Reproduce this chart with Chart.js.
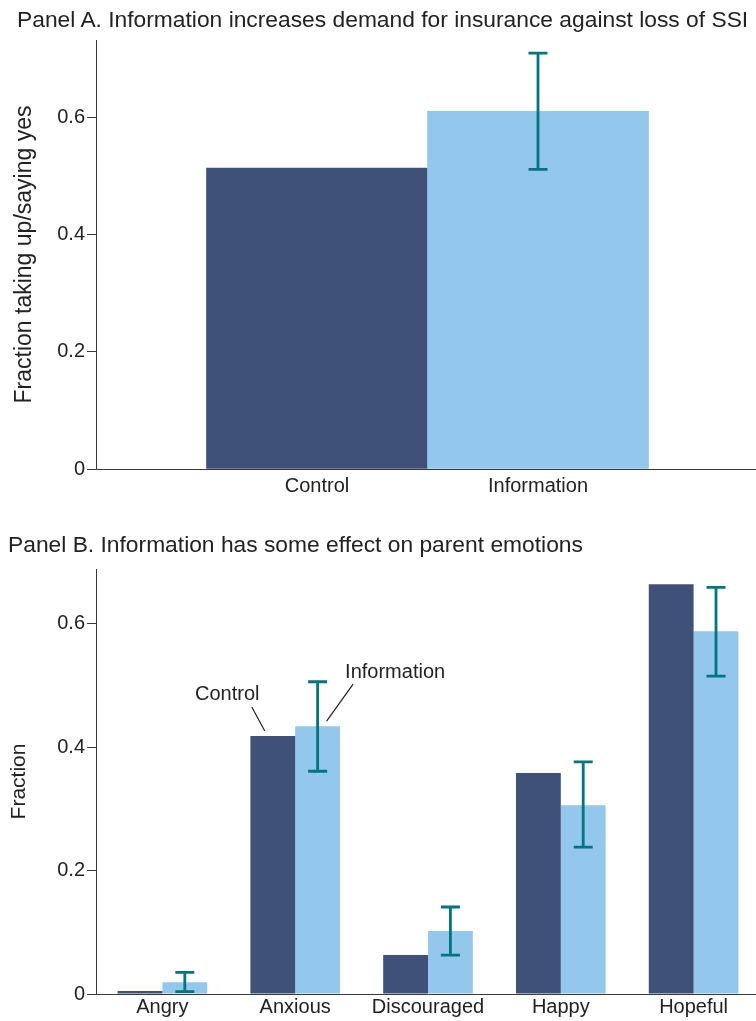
<!DOCTYPE html>
<html>
<head>
<meta charset="utf-8">
<script src="https://cdn.jsdelivr.net/npm/chart.js@4.4.1/dist/chart.umd.min.js"></script>
<style>
    html, body { margin: 0; background: #fff; overflow: hidden; width: 756px; height: 1021px; font-family: "Liberation Sans", Arial, sans-serif; }
    canvas { position: absolute; left: 0; display: block; }
    #painelA { top: 0; }
    #painelB { top: 500px; }
    .titulo { position: absolute; font-size: 22.8px; line-height: 1.2; color: #222; white-space: nowrap; z-index: 2; }
    #tituloA { left: 17px; top: 5.6px; }
    #tituloB { left: 8px; top: 530.8px; }
</style>
</head>
<body>
<div id="tituloA" class="titulo"></div>
<div id="tituloB" class="titulo"></div>
<canvas id="painelA" width="759" height="500"></canvas>
<canvas id="painelB" width="760" height="521"></canvas>
<script>
// painel A
const tituloA = "Panel A. Information increases demand for insurance against loss of SSI";
const eixoYA = "Fraction taking up/saying yes";
const gruposA = ["Control", "Information"];
const valoresA = [0.513, 0.610];
const erroBaixoA = [null, 0.511];
const erroAltoA = [null, 0.709];

// painel B
const tituloB = "Panel B. Information has some effect on parent emotions";
const eixoYB = "Fraction";
const emocoes = ["Angry", "Anxious", "Discouraged", "Happy", "Hopeful"];
const controleB = [0.005, 0.418, 0.063, 0.358, 0.664];
const informacaoB = [0.019, 0.434, 0.102, 0.306, 0.588];
const erroBaixoB = [0.004, 0.361, 0.063, 0.238, 0.515];
const erroAltoB = [0.035, 0.506, 0.141, 0.376, 0.659];
const rotulosB = ["Control", "Information"];
const emocaoAnotada = "Anxious";

const COR_CONTROLE = "#3f5079";
const COR_INFO = "#93c7eb";
const COR_ERRO = "#00757f";
const COR_EIXO = "#3a3a3a";
const COR_TEXTO = "#222";

Chart.defaults.font.family = "'Liberation Sans', Arial, sans-serif";
Chart.defaults.color = COR_TEXTO;

document.getElementById("tituloA").textContent = tituloA;
document.getElementById("tituloB").textContent = tituloB;

function criarBarrasErro(indiceDataset, baixo, alto) {
    return {
        id: "barrasErro",
        afterDatasetsDraw(chart) {
            const ctx = chart.ctx;
            const y = chart.scales.y;
            const meta = chart.getDatasetMeta(indiceDataset);
            ctx.save();
            ctx.strokeStyle = COR_ERRO;
            ctx.lineWidth = 2.8;
            baixo.forEach((lo, i) => {
                const hi = alto[i];
                if (lo == null || hi == null) return;
                const x = meta.data[i].x;
                const y1 = y.getPixelForValue(lo);
                const y2 = y.getPixelForValue(hi);
                ctx.beginPath();
                ctx.moveTo(x, y1); ctx.lineTo(x, y2);
                ctx.moveTo(x - 9.5, y1); ctx.lineTo(x + 9.5, y1);
                ctx.moveTo(x - 9.5, y2); ctx.lineTo(x + 9.5, y2);
                ctx.stroke();
            });
            ctx.restore();
        }
    };
}

const anotacoesB = {
    id: "anotacoesB",
    afterDatasetsDraw(chart) {
        const ctx = chart.ctx;
        const i = emocoes.indexOf(emocaoAnotada);
        const barC = chart.getDatasetMeta(0).data[i];
        const barI = chart.getDatasetMeta(1).data[i];
        ctx.save();
        ctx.strokeStyle = COR_TEXTO;
        ctx.lineWidth = 1.2;
        ctx.beginPath();
        ctx.moveTo(barC.x - 21, barC.y - 29); ctx.lineTo(barC.x - 8, barC.y - 5);
        ctx.moveTo(barI.x + 35.5, barI.y - 42); ctx.lineTo(barI.x + 9, barI.y - 5);
        ctx.stroke();
        ctx.fillStyle = COR_TEXTO;
        ctx.font = "20px 'Liberation Sans', Arial, sans-serif";
        ctx.textAlign = "center";
        ctx.textBaseline = "middle";
        ctx.fillText(rotulosB[0], barC.x - 45.5, barC.y - 42);
        ctx.fillText(rotulosB[1], barI.x + 77.5, barI.y - 54);
        ctx.restore();
    }
};

function eixoY(max, titulo, tamanho, recuo) {
    return {
        min: 0,
        max: max,
        grid: { display: true, drawOnChartArea: false, drawTicks: true, tickLength: 9, color: COR_EIXO, lineWidth: 1 },
        border: { display: true, color: COR_EIXO, width: 1 },
        ticks: {
            stepSize: 0.2,
            includeBounds: false,
            padding: 2,
            font: { size: 20 },
            callback: v => v === 0 ? "0" : v.toFixed(1)
        },
        title: { display: true, text: titulo, font: { size: tamanho }, padding: { top: recuo, bottom: 0 } },
        afterFit: s => { s.width = 96; }
    };
}

// o eixo x vai até a borda do canvas, sem folga lateral
function ajustarEixoX(altura) {
    return s => {
        s.height = altura;
        s.paddingLeft = 0;
        s.paddingRight = 0;
    };
}

// painel A: categorias vazias nas pontas para posicionar as barras
new Chart(document.getElementById("painelA"), {
    type: "bar",
    data: {
        labels: ["", ...gruposA, ""],
        datasets: [{
            data: [null, ...valoresA, null],
            backgroundColor: ["#fff", COR_CONTROLE, COR_INFO, "#fff"],
            borderWidth: 0,
            barPercentage: 1,
            categoryPercentage: 1
        }]
    },
    options: {
        responsive: false,
        animation: false,
        devicePixelRatio: 1,
        layout: { padding: { top: 40, left: 0, right: 0, bottom: 0 } },
        plugins: { legend: { display: false }, tooltip: { enabled: false } },
        scales: {
            x: {
                offset: false,
                grid: { display: false, drawTicks: false },
                border: { display: true, color: COR_EIXO, width: 1 },
                ticks: { padding: 5, font: { size: 20 }, maxRotation: 0, autoSkip: false },
                afterFit: ajustarEixoX(31)
            },
            y: eixoY(0.7315, eixoYA, 23, 11)
        }
    },
    plugins: [criarBarrasErro(0, [null, ...erroBaixoA, null], [null, ...erroAltoA, null])]
});

// painel B
new Chart(document.getElementById("painelB"), {
    type: "bar",
    data: {
        labels: emocoes,
        datasets: [
            { label: rotulosB[0], data: controleB, backgroundColor: COR_CONTROLE, borderWidth: 0, barPercentage: 1, categoryPercentage: 0.675 },
            { label: rotulosB[1], data: informacaoB, backgroundColor: COR_INFO, borderWidth: 0, barPercentage: 1, categoryPercentage: 0.675 }
        ]
    },
    options: {
        responsive: false,
        animation: false,
        devicePixelRatio: 1,
        layout: { padding: { top: 69, left: 0, right: 0, bottom: 0 } },
        plugins: { legend: { display: false }, tooltip: { enabled: false } },
        scales: {
            x: {
                offset: true,
                grid: { display: false, drawTicks: false },
                border: { display: true, color: COR_EIXO, width: 1 },
                ticks: { padding: 1, font: { size: 20 }, maxRotation: 0, autoSkip: false },
                afterFit: ajustarEixoX(27)
            },
            y: eixoY(0.6887, eixoYB, 21, 7)
        }
    },
    plugins: [criarBarrasErro(1, erroBaixoB, erroAltoB), anotacoesB]
});
</script>
</body>
</html>
